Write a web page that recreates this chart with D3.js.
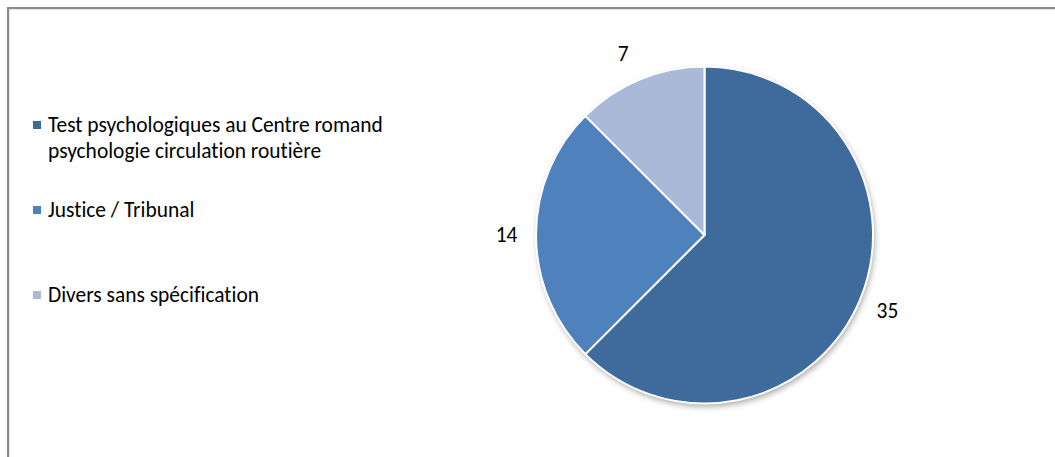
<!DOCTYPE html>
<html><head><meta charset="utf-8">
<script src="https://cdn.jsdelivr.net/npm/d3@7"></script>
<style>html,body{margin:0;padding:0;background:#fff;overflow:hidden} text{font-variant-ligatures:none;font-feature-settings:"liga" 0}</style>
</head><body>
<svg id="c" width="1055" height="457"></svg>
<script>
const categories = ["Test psychologiques au Centre romand psychologie circulation routière", "Justice / Tribunal", "Divers sans spécification"];
const legendLines = [["Test psychologiques au Centre romand", "psychologie circulation routière"], ["Justice / Tribunal"], ["Divers sans spécification"]];
const values = [35, 14, 7];
const colors = ["#3F6A9C", "#4F81BD", "#AAB9D7"];

const svg = d3.select("#c");
const font = "Carlito, Lato, 'Open Sans', 'Liberation Sans', sans-serif";

// frame
svg.append("line").attr("x1",7.5).attr("x2",1055).attr("y1",8).attr("y2",8).attr("stroke","#8a8a8a").attr("stroke-width",2);
svg.append("line").attr("x1",8).attr("x2",8).attr("y1",7).attr("y2",457).attr("stroke","#8a8a8a").attr("stroke-width",2);
svg.append("line").attr("x1",9).attr("x2",1055).attr("y1",9.5).attr("y2",9.5).attr("stroke","#e4e4e4").attr("stroke-width",1);
svg.append("line").attr("x1",9.5).attr("x2",9.5).attr("y1",9).attr("y2",457).attr("stroke","#e4e4e4").attr("stroke-width",1);

const defs = svg.append("defs");
const f = defs.append("filter").attr("id","sh").attr("x","-20%").attr("y","-20%").attr("width","140%").attr("height","140%");
f.append("feDropShadow").attr("dx",1.5).attr("dy",3).attr("stdDeviation",3).attr("flood-color","#000").attr("flood-opacity",0.35);

const cx = 704.5, cy = 235, r = 168.5, labelR = 198;
const pie = d3.pie().sort(null).value(d => d)(values);
const arc = d3.arc().innerRadius(0).outerRadius(r);
const labelArc = d3.arc().innerRadius(labelR).outerRadius(labelR);
const color = d3.scaleOrdinal().domain(d3.range(values.length)).range(colors);

const g = svg.append("g").attr("transform",`translate(${cx},${cy})`);
g.append("circle").attr("r",r).attr("fill","#fff").attr("filter","url(#sh)");
g.selectAll("path.s").data(pie).join("path").attr("class","s")
  .attr("d",arc).attr("fill",(d,i)=>color(i)).attr("stroke","#fff").attr("stroke-width",2).attr("stroke-linejoin","round");

// small angular nudge for the outside labels (Excel best-fit style)
const labelShift = [0, 0, -0.03];
g.selectAll("text.l").data(pie).join("text").attr("class","l")
  .attr("x",(d,i)=>{const a=(d.startAngle+d.endAngle)/2+labelShift[i];return labelR*Math.sin(a);})
  .attr("y",(d,i)=>{const a=(d.startAngle+d.endAngle)/2+labelShift[i];return -labelR*Math.cos(a);})
  .attr("text-anchor","middle").attr("dominant-baseline","central")
  .attr("font-family",font).attr("font-size",17).attr("fill","#000")
  .text(d=>d.value);

// legend
const legendY = [121, 206, 291];
const lg = svg.append("g");
legendLines.forEach((lines,i)=>{
  lg.append("rect").attr("x",33).attr("y",legendY[i]).attr("width",8).attr("height",8).attr("fill",colors[i]);
  lines.forEach((t,j)=>{
    lg.append("text").attr("x",48).attr("y",legendY[i]+11+j*26)
      .attr("font-family",font).attr("font-size",18).attr("fill","#000").text(t);
  });
});
const first = lg.select("text").node();
const w = first.getComputedTextLength();
const fs = 18 * 335 / w;
lg.selectAll("text").attr("font-size",fs);
g.selectAll("text.l").attr("font-size",fs);
</script>
</body></html>
